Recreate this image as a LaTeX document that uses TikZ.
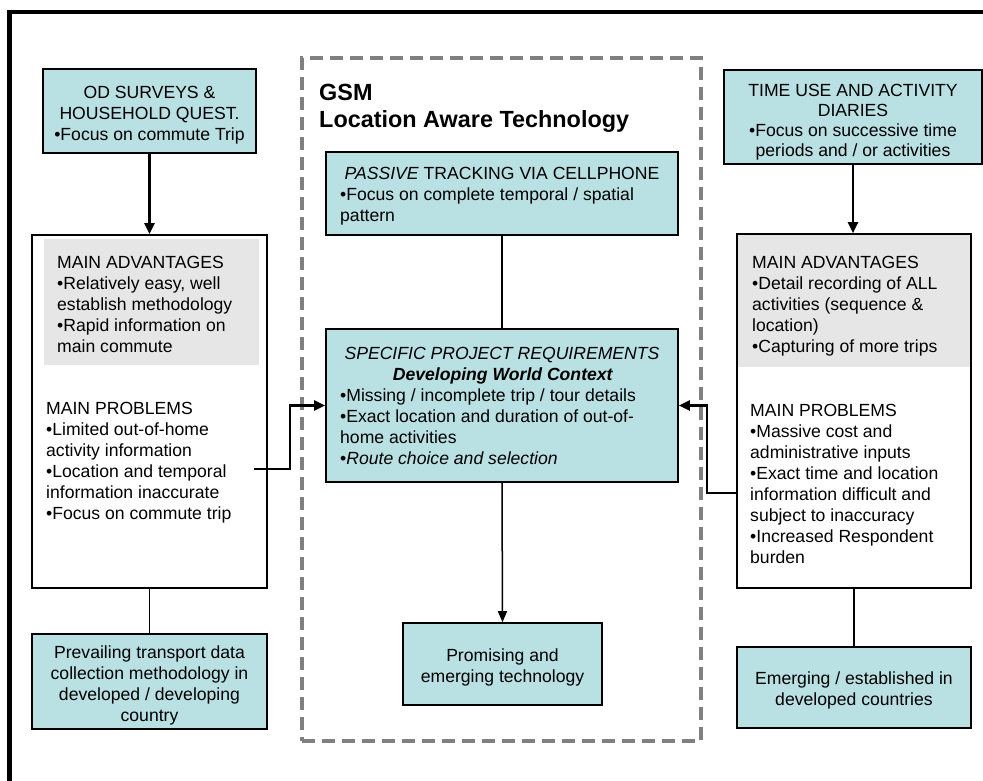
\documentclass[tikz,border=0pt]{standalone}
\usepackage{fontspec}
\setmainfont{Liberation Sans}
\usetikzlibrary{arrows.meta,fit}
\definecolor{boxteal}{RGB}{185,224,227}
\definecolor{greyfill}{RGB}{230,230,230}
\definecolor{dashgrey}{RGB}{128,128,128}
\newcommand\firststrut{\rule{0pt}{15pt}}
\begin{document}
\begin{tikzpicture}[x=1pt,y=-1pt,
  tealbox/.style={draw=black, line width=1.6pt, inner sep=0pt, fill=boxteal},
  plainbox/.style={draw=black, line width=1.6pt, inner sep=0pt},
  greyarea/.style={fill=greyfill, draw=none, inner sep=0pt},
  gsmbox/.style={draw=dashgrey, line width=3.2pt, dash pattern=on 13pt off 7pt, inner sep=0pt},
  txt/.style={inner sep=0pt, font=\fontsize{17.6}{21}\selectfont},
  lefttxt/.style={txt, align=left, anchor=north west},
  centtxt/.style={txt, align=center, anchor=north},
  thickarrow/.style={line width=2.4pt, -{Triangle[length=11pt,width=10pt]}},
  thinarrow/.style={line width=1.5pt, -{Triangle[length=11pt,width=9pt]}},
  thinline/.style={line width=1.4pt}]
\useasboundingbox (0,0) rectangle (983,781);
% outer frame
\draw[line width=4.4pt] (9.5,781) -- (9.5,11.8) -- (983,11.8);
% GSM dashed area
\node[gsmbox, fit={(302,58) (701,741)}] (gsm) {};
% boxes
\node[tealbox, fit={(43,69) (256,153)}] (od) {};
\node[plainbox, fit={(32,235) (267,588)}] (lbig) {};
\node[greyarea, fit={(44,239) (259,365)}] (lgrey) {};
\node[tealbox, fit={(32,634) (267,729)}] (prev) {};
\node[tealbox, fit={(326,152) (678,235)}] (pass) {};
\node[tealbox, fit={(326,329) (678,482)}] (spr) {};
\node[tealbox, fit={(403,623) (602,705)}] (prom) {};
\node[tealbox, fit={(724,70) (982,164)}] (time) {};
\node[greyarea, fit={(737,234) (971,367)}] (rgrey) {};
\node[plainbox, fit={(737,234) (971,588)}] (rbig) {};
\node[tealbox, fit={(737,647) (971,728)}] (emer) {};
% texts
\node[centtxt] (odtxt) at (149.5,83) {\firststrut OD SURVEYS \&\\HOUSEHOLD QUEST.\\•Focus on commute Trip};
\node[lefttxt] (ladv) at (57,253) {\firststrut MAIN ADVANTAGES\\•Relatively easy, well\\establish methodology\\•Rapid information on\\main commute};
\node[lefttxt] (lprob) at (46,399) {\firststrut MAIN PROBLEMS\\•Limited out-of-home\\activity information\\•Location and temporal\\information inaccurate\\•Focus on commute trip};
\node[centtxt] (prevtxt) at (149.5,643) {\firststrut Prevailing transport data\\collection methodology in\\developed / developing\\country};
\node[inner sep=0pt, align=left, anchor=north west, font=\bfseries\fontsize{23.4}{27}\selectfont] (title) at (319,81) {\rule{0pt}{19pt}GSM\\Location Aware Technology};
\node[txt, anchor=base] (passhead) at (502,179.5) {\textit{PASSIVE} TRACKING VIA CELLPHONE};
\node[lefttxt] (passtxt) at (340,185) {\firststrut •Focus on complete temporal / spatial\\pattern};
\node[txt, anchor=base] (sprhead) at (502,359.5) {\textit{SPECIFIC PROJECT REQUIREMENTS}};
\node[txt, anchor=base] (sprsub) at (503,380) {\textbf{\textit{Developing World Context}}};
\node[lefttxt] (sprtxt) at (340,386) {\firststrut •Missing / incomplete trip / tour details\\•Exact location and duration of out-of-\\home activities\\•\textit{Route choice and selection}};
\node[centtxt] (promtxt) at (502.5,646) {\firststrut Promising and\\emerging technology};
\node[txt, align=center, anchor=north, font=\fontsize{17.6}{20}\selectfont] (timetxt) at (853,81.5) {\firststrut TIME USE AND ACTIVITY\\DIARIES\\•Focus on successive time\\periods and / or activities};
\node[lefttxt] (radv) at (752,253) {\firststrut MAIN ADVANTAGES\\•Detail recording of ALL\\activities (sequence \&\\location)\\•Capturing of more trips};
\node[lefttxt] (rprob) at (750,401) {\firststrut MAIN PROBLEMS\\•Massive cost and\\administrative inputs\\•Exact time and location\\information difficult and\\subject to inaccuracy\\•Increased Respondent\\burden};
\node[centtxt] (emertxt) at (854,669) {\firststrut Emerging / established in\\developed countries};
% connectors
\draw[thickarrow] (od.south) -- (od.south |- lbig.north);
\draw[thickarrow] (time.south) -- (time.south |- rbig.north);
\draw[thinline] (pass.south) -- (spr.north);
\draw[thinarrow] (spr.south) -- (prom.north);
\draw[thinline] (lbig.south) -- (prev.north);
\draw[thinline] (rbig.south) -- (emer.north);
\coordinate (lstart) at (254,469);
\coordinate (lbend) at (290,469);
\draw[thickarrow] (lstart) -- (lbend) |- (spr.west);
\coordinate (rstart) at (737,493);
\coordinate (rbend) at (707,493);
\draw[thickarrow] (rstart) -- (rbend) |- (spr.east);
\end{tikzpicture}
\end{document}
